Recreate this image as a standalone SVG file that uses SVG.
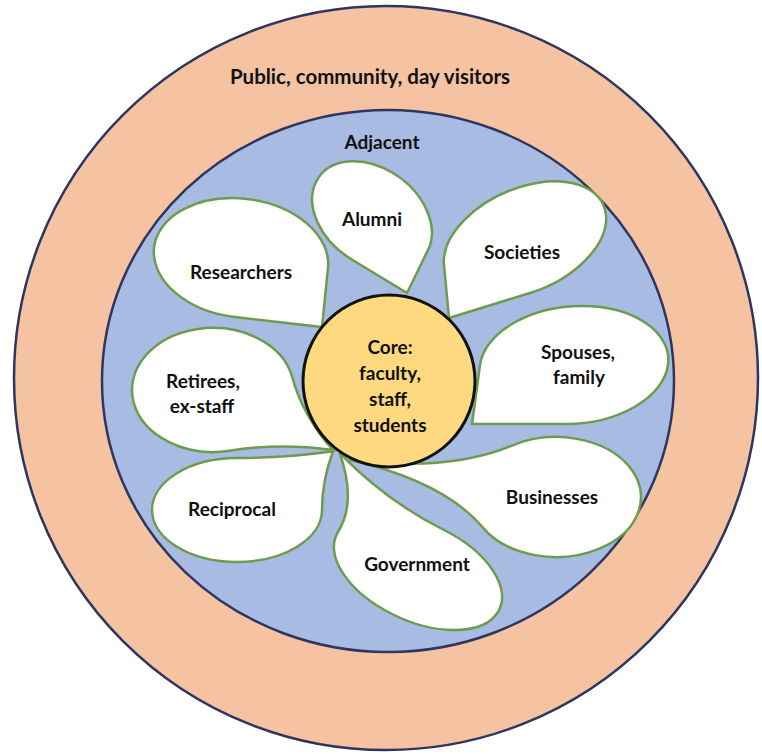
<svg xmlns="http://www.w3.org/2000/svg" width="762" height="754" viewBox="0 0 762 754">
<style>
.lbl{font-family:Lato,"Noto Sans","Liberation Sans",sans-serif;font-weight:700;font-size:19px;fill:#111;text-anchor:middle}
.petal{fill:#fff;stroke:#6e9c4f;stroke-width:2.5;vector-effect:non-scaling-stroke}
.ring{stroke:#2e3660;stroke-width:2.5}
</style>
<rect width="762" height="754" fill="#fff"/>
<g id="ring-public">
<circle class="ring" cx="386" cy="378" r="372" fill="#f5c3a2"/>
<text class="lbl" x="370" y="84" style="font-size:20.5px">Public, community, day visitors</text>
</g>
<g id="ring-adjacent">
<ellipse class="ring" cx="388" cy="381" rx="286" ry="271" fill="#a8bbe2"/>
<text class="lbl" x="382" y="149">Adjacent</text>
</g>
<g id="petal-researchers">
<path class="petal" transform="matrix(-6 59 -87 -10 241 258)" d="M-1 0A1 1 0 0 1 0-1Q0.5-1 1-1Q1-0.5 1 0A1 1 0 0 1 0 1A1 1 0 0 1-1 0Z"/>
<text class="lbl" x="241" y="279">Researchers</text>
</g>
<g id="petal-alumni">
<path class="petal" transform="matrix(-21 43 -56 -34 372 216)" d="M-1 0A1 1 0 0 1 0-1Q0.5-1 1-1Q1-0.5 1 0A1 1 0 0 1 0 1A1 1 0 0 1-1 0Z"/>
<text class="lbl" x="372" y="226">Alumni</text>
</g>
<g id="petal-societies">
<path class="petal" transform="matrix(5 53 81 -25 525 240)" d="M-1 0A1 1 0 0 1 0-1Q0.5-1 1-1Q1-0.5 1 0A1 1 0 0 1 0 1A1 1 0 0 1-1 0Z"/>
<text class="lbl" x="522" y="259">Societies</text>
</g>
<g id="petal-spouses">
<path class="petal" transform="matrix(-8 59 94 0 574 365)" d="M-1 0A1 1 0 0 1 0-1Q0.5-1 1-1Q1-0.5 1 0A1 1 0 0 1 0 1A1 1 0 0 1-1 0Z"/>
<text class="lbl" x="578" y="359">Spouses,</text>
<text class="lbl" x="579" y="384">family</text>
</g>
<g id="petal-businesses">
<path class="petal" transform="matrix(-43.4 -51.6 73.1 -30.6 556 497)" d="M-1 0A1 1 0 0 1 0-1Q0.885-1 1.77-1.77Q1-0.885 1 0A1 1 0 0 1 0 1A1 1 0 0 1-1 0Z"/>
<text class="lbl" x="552" y="504">Businesses</text>
</g>
<g id="petal-government">
<path class="petal" transform="matrix(26 -42 80 40 418 572)" d="M-1 0A1 1 0 0 1 0-1Q0.725-1 1.45-1.45Q1-0.725 1 0A1 1 0 0 1 0 1A1 1 0 0 1-1 0Z"/>
<text class="lbl" x="417" y="571">Government</text>
</g>
<g id="petal-reciprocal">
<path class="petal" transform="matrix(85 0 0 52 237 510)" d="M-1 0A1 1 0 0 1 0-1Q0.565-1 1.13-1.13Q1-0.565 1 0A1 1 0 0 1 0 1A1 1 0 0 1-1 0Z"/>
<text class="lbl" x="232" y="516">Reciprocal</text>
</g>
<g id="petal-retirees">
<path class="petal" transform="matrix(16.5 60.7 -79.3 12.7 213 390)" d="M-1 0A1 1 0 0 1 0-1Q0.625-1 1.25-1.25Q1-0.625 1 0A1 1 0 0 1 0 1A1 1 0 0 1-1 0Z"/>
<text class="lbl" x="203" y="388">Retirees,</text>
<text class="lbl" x="202" y="413">ex-staff</text>
</g>
<g id="core">
<circle cx="389" cy="381" r="86" fill="#ffd980" stroke="#111" stroke-width="3"/>
<text class="lbl" x="390" y="354">Core:</text>
<text class="lbl" x="390" y="380">faculty,</text>
<text class="lbl" x="390" y="406">staff,</text>
<text class="lbl" x="390" y="432">students</text>
</g>
</svg>
